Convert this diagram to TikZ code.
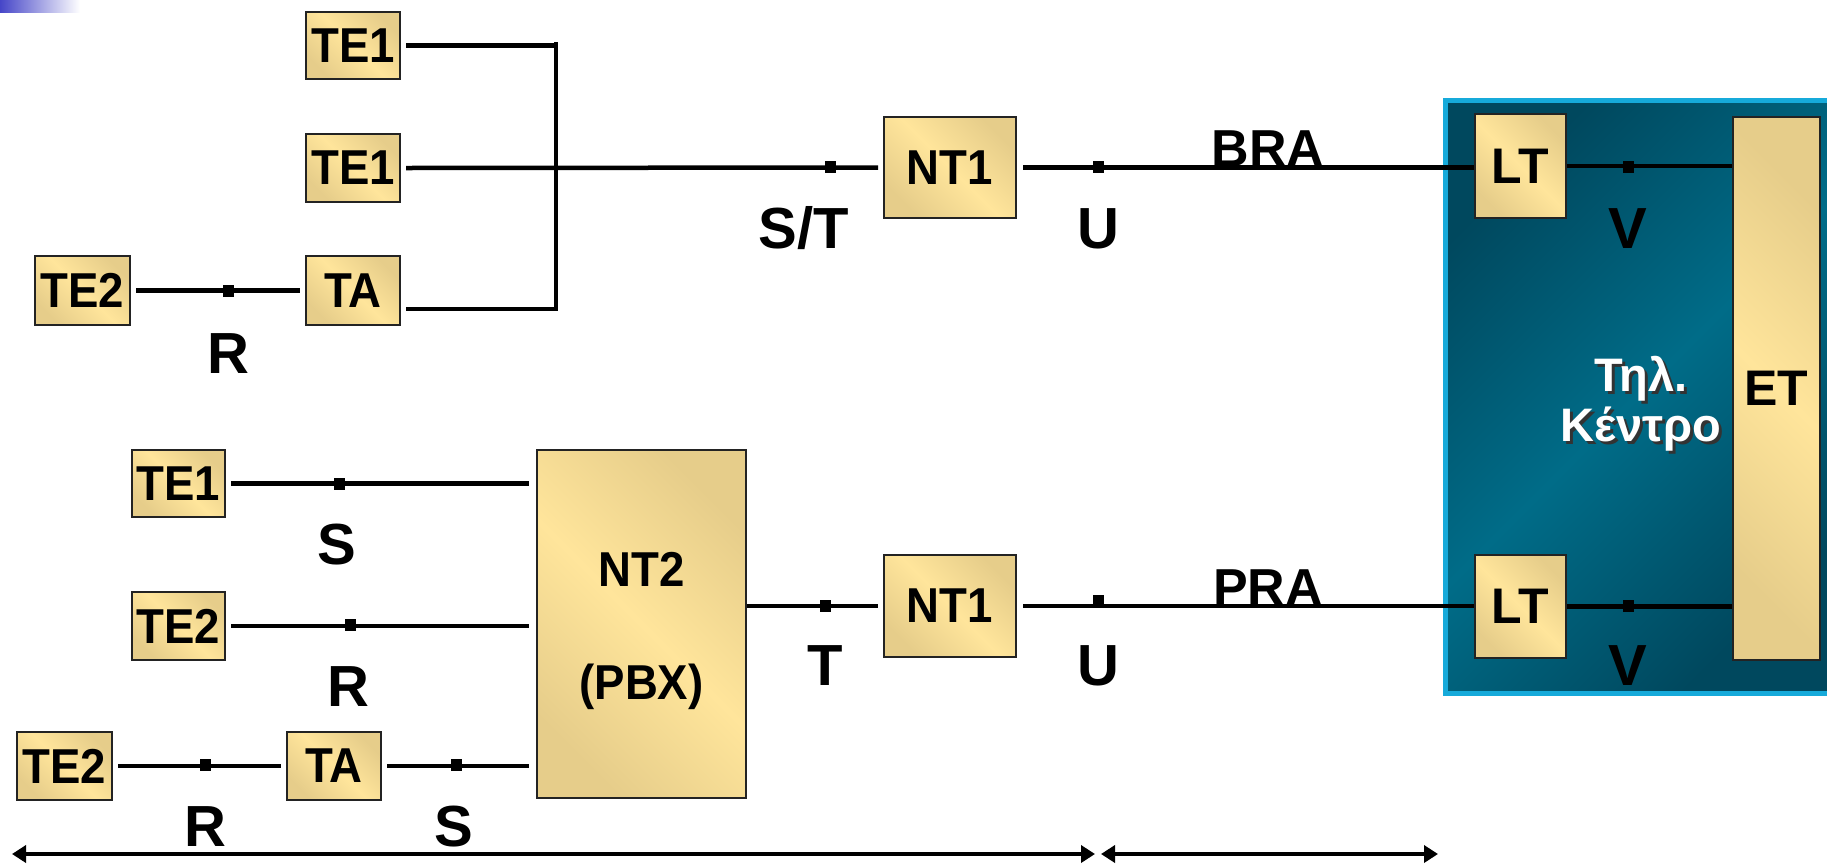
\documentclass[tikz,border=0pt]{standalone}
\usepackage{fontspec}
\setmainfont{Liberation Sans}
\newfontfamily\boxfont[FakeStretch=0.93]{Liberation Sans}
\usetikzlibrary{arrows.meta}
\definecolor{boxlight}{RGB}{255,229,155}
\definecolor{boxdark}{RGB}{230,205,138}
\definecolor{blueout}{RGB}{0,72,94}
\definecolor{bluein}{RGB}{0,108,136}
\definecolor{cyanedge}{RGB}{22,170,218}
\definecolor{barblue}{RGB}{70,70,200}
\definecolor{edge}{RGB}{35,35,35}
\tikzset{
  box/.style={draw=edge, line width=2pt, left color=boxdark, right color=boxdark,
    middle color=boxlight, shading angle=135, inner sep=0pt,
    font=\fontsize{49}{49}\boxfont\bfseries, text=black},
  conn/.style={line width=4.5pt, draw=black},
  tickmark/.style={fill=black, rectangle, minimum width=11pt, minimum height=12pt, inner sep=0pt},
  lbl/.style={font=\fontsize{58}{58}\selectfont\bfseries, inner sep=0pt, anchor=base, text=black},
  greek/.style={align=center, inner sep=0pt, font=\fontsize{47}{50}\selectfont\bfseries}
}
\begin{document}
\begin{tikzpicture}[x=1pt,y=-1pt]
\useasboundingbox (0,0) rectangle (1827,863);
% slide corner bar
\shade[left color=barblue, right color=white] (0,0) rectangle (80,12);
% exchange (blue) area
\shade[left color=blueout, right color=blueout, middle color=bluein, shading angle=45] (1445,100) rectangle (1827,693);
\draw[cyanedge, line width=5pt] (1830,100) -- (1445,100) -- (1445,693) -- (1830,693);
% ---------- nodes ----------
\node[box, minimum width=94pt, minimum height=67pt] (te1a) at (353,45.5) {TE1};
\node[box, minimum width=94pt, minimum height=68pt] (te1b) at (353,168) {TE1};
\node[box, minimum width=94pt, minimum height=69pt] (taa) at (353,290.5) {TA};
\node[box, minimum width=95pt, minimum height=69pt] (te2a) at (82.5,290.5) {TE2};
\node[box, minimum width=132pt, minimum height=101pt] (nt1a) at (950,167.5) {NT1};
\node[box, minimum width=91pt, minimum height=104pt, font=\fontsize{50}{50}\selectfont\bfseries] (lta) at (1520.5,166) {LT};
\node[box, minimum width=87pt, minimum height=543pt, font=\fontsize{50}{50}\selectfont\bfseries] (et) at (1776.5,388.5) {ET};
\node[box, minimum width=91pt, minimum height=103pt, font=\fontsize{50}{50}\selectfont\bfseries] (ltb) at (1520.5,606.5) {LT};
\node[box, minimum width=132pt, minimum height=102pt] (nt1b) at (950,606) {NT1};
\node[box, minimum width=209pt, minimum height=348pt, align=center, font=\fontsize{49}{113}\boxfont\bfseries] (nt2) at (641.5,624) {\rule{0pt}{48pt}NT2\\(PBX)};
\node[box, minimum width=93pt, minimum height=67pt] (te1c) at (178.5,483.5) {TE1};
\node[box, minimum width=93pt, minimum height=68pt] (te2b) at (178.5,626) {TE2};
\node[box, minimum width=95pt, minimum height=68pt] (te2c) at (64.5,766) {TE2};
\node[box, minimum width=94pt, minimum height=68pt] (tab) at (334,766) {TA};
\node[greek, text=black!80] (exchshadow) at (1644,407) {Τηλ.\\Κέντρο};
\node[greek, text=white] (exch) at (1641,404) {Τηλ.\\Κέντρο};
% ---------- bus ----------
\coordinate (bustop) at (556,42);
\coordinate (busbot) at (556,311);
\draw[conn] (bustop) -- (busbot);
\draw[conn] ([xshift=5pt]te1a.east) -- (te1a.east -| bustop);
\draw[conn] ([xshift=5pt,yshift=-18.5pt]taa.east) -- ([yshift=-18.5pt]taa.east -| bustop);
\draw[conn] ([xshift=5pt]te1b.east) -- ([xshift=-5pt]nt1a.west);
\draw[conn] ([xshift=5pt]te2a.east) -- ([xshift=-5pt]taa.west);
\draw[conn] ([xshift=6pt]nt1a.east) -- (nt1a.east -| lta.west);
\draw[conn] (lta.east) -- (lta.east -| et.west);
% ---------- lower ----------
\draw[conn] (nt1b.west -| nt2.east) -- ([xshift=-5pt]nt1b.west);
\draw[conn] ([xshift=6pt]nt1b.east) -- (nt1b.east -| ltb.west);
\draw[conn] (ltb.east) -- (ltb.east -| et.west);
\draw[conn] ([xshift=5pt]te1c.east) -- ([xshift=-7pt]te1c.east -| nt2.west);
\draw[conn] ([xshift=5pt]te2b.east) -- ([xshift=-7pt]te2b.east -| nt2.west);
\draw[conn] ([xshift=5pt]te2c.east) -- ([xshift=-5pt]tab.west);
\draw[conn] ([xshift=5pt]tab.east) -- ([xshift=-7pt]tab.east -| nt2.west);
% ---------- reference point ticks ----------
\node[tickmark] (k1) at (228,291) {};
\node[tickmark] (k2) at (830,167) {};
\node[tickmark] (k3) at (1098,167) {};
\node[tickmark] (k4) at (1628,167) {};
\node[tickmark] (k5) at (825,606) {};
\node[tickmark] (k6) at (1098,601) {};
\node[tickmark] (k7) at (1628,606) {};
\node[tickmark] (k8) at (339,484) {};
\node[tickmark] (k9) at (350,625) {};
\node[tickmark] (k10) at (205,765) {};
\node[tickmark] (k11) at (456,765) {};
% ---------- labels ----------
\node[lbl] (lR1) at (228,373) {R};
\node[lbl] (lST) at (804,248) {S/T};
\node[lbl] (lU1) at (1098,248) {U};
\node[lbl] (lV1) at (1628,248) {V};
\node[lbl, font=\fontsize{52}{52}\selectfont\bfseries] (lBRA) at (1268,166) {BRA};
\node[lbl, font=\fontsize{52}{52}\selectfont\bfseries] (lPRA) at (1268,605) {PRA};
\node[lbl] (lT) at (825,685) {T};
\node[lbl] (lU2) at (1098,685) {U};
\node[lbl] (lV2) at (1628,685) {V};
\node[lbl] (lS1) at (337,564) {S};
\node[lbl] (lR2) at (348,706) {R};
\node[lbl] (lR3) at (205,846) {R};
\node[lbl] (lS2) at (454,846) {S};
% ---------- span arrows ----------
\coordinate (a1) at (12,854);
\coordinate (a2) at (1095,854);
\coordinate (a3) at (1101,854);
\coordinate (a4) at (1438,854);
\draw[conn, {Triangle[length=14pt,width=17pt]}-{Triangle[length=14pt,width=17pt]}] (a1) -- (a2);
\draw[conn, {Triangle[length=14pt,width=17pt]}-{Triangle[length=14pt,width=17pt]}] (a3) -- (a4);
\end{tikzpicture}
\end{document}
